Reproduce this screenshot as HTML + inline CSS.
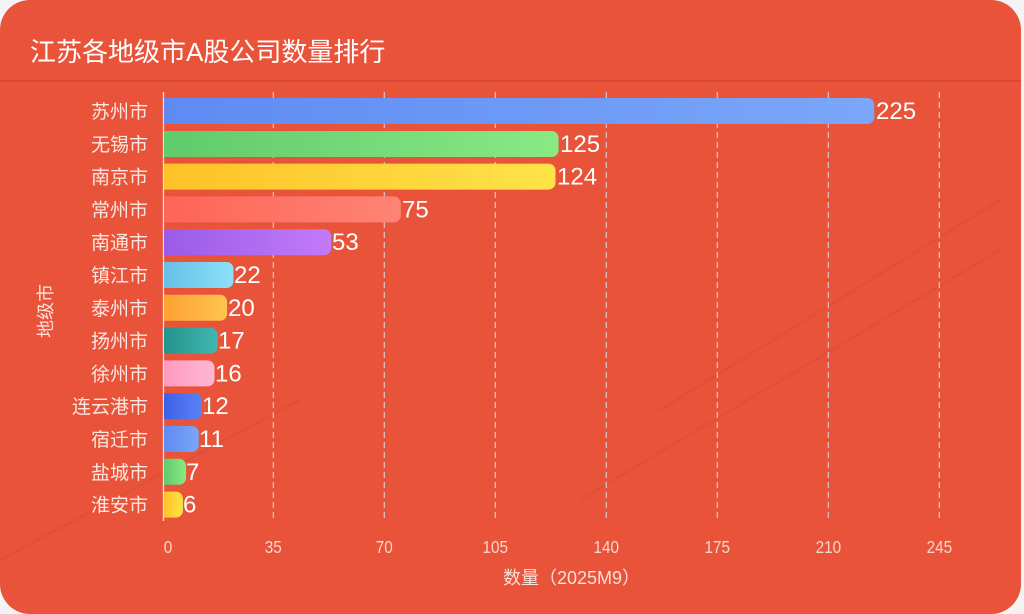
<!DOCTYPE html>
<html><head><meta charset="utf-8"><style>
html,body{margin:0;padding:0;background:#f3f3f5;}
body{width:1024px;height:614px;overflow:hidden;position:relative;font-family:"Liberation Sans","Noto Sans CJK SC",sans-serif;}
.card{position:absolute;left:0;top:0;width:1021px;height:614px;background:#E8533A;border-radius:30px;overflow:hidden;}
</style></head><body>
<div class="card">
<svg width="1021" height="614" viewBox="0 0 1021 614" xmlns="http://www.w3.org/2000/svg" font-family="Liberation Sans, Noto Sans CJK SC, sans-serif">
<defs>
<linearGradient id="g0" x1="0" x2="1"><stop offset="0" stop-color="#5B8CF8"/><stop offset="1" stop-color="#77AAFF"/></linearGradient>
<linearGradient id="g1" x1="0" x2="1"><stop offset="0" stop-color="#5CCF6E"/><stop offset="1" stop-color="#86EE88"/></linearGradient>
<linearGradient id="g2" x1="0" x2="1"><stop offset="0" stop-color="#FFC627"/><stop offset="1" stop-color="#FFE84A"/></linearGradient>
<linearGradient id="g3" x1="0" x2="1"><stop offset="0" stop-color="#FF655A"/><stop offset="1" stop-color="#FF8677"/></linearGradient>
<linearGradient id="g4" x1="0" x2="1"><stop offset="0" stop-color="#985CEE"/><stop offset="1" stop-color="#C27CFF"/></linearGradient>
<linearGradient id="g5" x1="0" x2="1"><stop offset="0" stop-color="#62C4EC"/><stop offset="1" stop-color="#8AE6FF"/></linearGradient>
<linearGradient id="g6" x1="0" x2="1"><stop offset="0" stop-color="#FFA433"/><stop offset="1" stop-color="#FFC850"/></linearGradient>
<linearGradient id="g7" x1="0" x2="1"><stop offset="0" stop-color="#1C968F"/><stop offset="1" stop-color="#3DBBB5"/></linearGradient>
<linearGradient id="g8" x1="0" x2="1"><stop offset="0" stop-color="#FF9DC6"/><stop offset="1" stop-color="#FFBBD9"/></linearGradient>
<linearGradient id="g9" x1="0" x2="1"><stop offset="0" stop-color="#3761EC"/><stop offset="1" stop-color="#5884FF"/></linearGradient>
</defs>

<!-- watermark hints -->
<g stroke="#c94430" stroke-opacity="0.22" fill="none" stroke-width="2">
<path d="M580 500 L1000 250"/>
<path d="M660 410 L1000 200"/>
<path d="M0 560 L300 400"/>
</g>

<!-- header -->
<text x="30" y="61" font-size="26" fill="#ffffff">江苏各地级市A股公司数量排行</text>
<rect x="0" y="80" width="1021" height="1.5" fill="#cf4530" opacity="0.8"/>

<!-- grid -->
<g stroke="#d8dde6" stroke-width="1.2" stroke-dasharray="6,4" opacity="0.85">
<line x1="273.3" y1="92" x2="273.3" y2="521"/>
<line x1="384.3" y1="92" x2="384.3" y2="521"/>
<line x1="495.3" y1="92" x2="495.3" y2="521"/>
<line x1="606.3" y1="92" x2="606.3" y2="521"/>
<line x1="717.3" y1="92" x2="717.3" y2="521"/>
<line x1="828.3" y1="92" x2="828.3" y2="521"/>
<line x1="939.3" y1="92" x2="939.3" y2="521"/>
</g>
<line x1="163.5" y1="92" x2="163.5" y2="521" stroke="#e8e3e6" stroke-width="1.3"/>

<!-- bars -->
<g opacity="0.97">
<path d="M164 98 H867.3 a7 7 0 0 1 7 7 V117 a7 7 0 0 1 -7 7 H164 Z" fill="url(#g0)"/>
<path d="M164 131 H551.6 a7 7 0 0 1 7 7 V150 a7 7 0 0 1 -7 7 H164 Z" fill="url(#g1)"/>
<path d="M164 163.6 H548.5 a7 7 0 0 1 7 7 V182.6 a7 7 0 0 1 -7 7 H164 Z" fill="url(#g2)"/>
<path d="M164 196.4 H393.8 a7 7 0 0 1 7 7 V215.4 a7 7 0 0 1 -7 7 H164 Z" fill="url(#g3)"/>
<path d="M164 229.2 H324.3 a7 7 0 0 1 7 7 V248.2 a7 7 0 0 1 -7 7 H164 Z" fill="url(#g4)"/>
<path d="M164 262 H226.5 a7 7 0 0 1 7 7 V281 a7 7 0 0 1 -7 7 H164 Z" fill="url(#g5)"/>
<path d="M164 294.8 H220.1 a7 7 0 0 1 7 7 V313.8 a7 7 0 0 1 -7 7 H164 Z" fill="url(#g6)"/>
<path d="M164 327.6 H210.7 a7 7 0 0 1 7 7 V346.6 a7 7 0 0 1 -7 7 H164 Z" fill="url(#g7)"/>
<path d="M164 360.4 H207.5 a7 7 0 0 1 7 7 V379.4 a7 7 0 0 1 -7 7 H164 Z" fill="url(#g8)"/>
<path d="M164 393.2 H194.9 a7 7 0 0 1 7 7 V412.2 a7 7 0 0 1 -7 7 H164 Z" fill="url(#g9)"/>
<path d="M164 426 H191.7 a7 7 0 0 1 7 7 V445 a7 7 0 0 1 -7 7 H164 Z" fill="url(#g0)"/>
<path d="M164 458.8 H179.1 a7 7 0 0 1 7 7 V477.8 a7 7 0 0 1 -7 7 H164 Z" fill="url(#g1)"/>
<path d="M164 491.6 H175.9 a7 7 0 0 1 7 7 V510.6 a7 7 0 0 1 -7 7 H164 Z" fill="url(#g2)"/>
</g>

<!-- value labels -->
<g font-size="24" fill="#ffffff">
<text x="876" y="119">225</text>
<text x="560" y="152">125</text>
<text x="557" y="184.6">124</text>
<text x="402" y="217.4">75</text>
<text x="332" y="250.2">53</text>
<text x="234" y="283">22</text>
<text x="228" y="315.8">20</text>
<text x="218" y="348.6">17</text>
<text x="215" y="381.4">16</text>
<text x="202" y="414.2">12</text>
<text x="199" y="447">11</text>
<text x="186" y="479.8">7</text>
<text x="183" y="512.6">6</text>
</g>

<!-- category labels -->
<g font-size="19" fill="#fde6df" text-anchor="end">
<text x="148" y="118">苏州市</text>
<text x="148" y="150.8">无锡市</text>
<text x="148" y="183.6">南京市</text>
<text x="148" y="216.4">常州市</text>
<text x="148" y="249.2">南通市</text>
<text x="148" y="282">镇江市</text>
<text x="148" y="314.8">泰州市</text>
<text x="148" y="347.6">扬州市</text>
<text x="148" y="380.4">徐州市</text>
<text x="148" y="413.2">连云港市</text>
<text x="148" y="446">宿迁市</text>
<text x="148" y="478.8">盐城市</text>
<text x="148" y="511.6">淮安市</text>
</g>

<!-- x tick labels (condensed) -->
<g font-size="18" fill="#f7d6cc" text-anchor="middle" transform="scale(0.85,1)">
<text x="197.6" y="553">0</text>
<text x="321.5" y="553">35</text>
<text x="452.1" y="553">70</text>
<text x="582.7" y="553">105</text>
<text x="713.3" y="553">140</text>
<text x="843.9" y="553">175</text>
<text x="974.5" y="553">210</text>
<text x="1105.1" y="553">245</text>
</g>

<!-- axis names -->
<text x="503" y="584" font-size="18" fill="#fbe0d8">数量（2025M9）</text>
<text transform="translate(52,311) rotate(-90)" font-size="18" fill="#fbe0d8" text-anchor="middle">地级市</text>
</svg>
</div>
</body></html>
